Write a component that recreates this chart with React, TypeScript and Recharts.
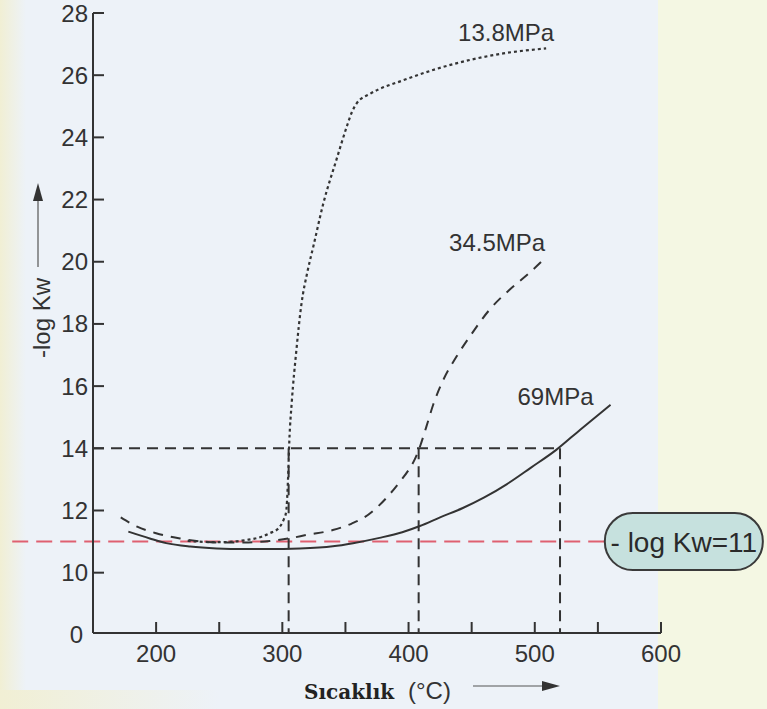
import React from 'react';
import { LineChart, Line, XAxis, YAxis, ReferenceLine, ReferenceDot, Label } from 'recharts';

const W = 767;
const H = 709;

// Axis setup: the vertical scale is broken below 10, the origin is labelled "0"
const yOrigin = 8.06;
const xTicks = [200, 250, 300, 350, 400, 450, 500, 550, 600];
const yTicks = [yOrigin, 10, 12, 14, 16, 18, 20, 22, 24, 26, 28];

// 13.8 MPa (dotted)
const temp138 = [225, 248, 261, 271, 283, 290, 297, 301, 303, 304.5, 305.5, 307.5, 311, 315, 320, 324.5, 332.5, 343, 351, 355, 359, 369.5, 396, 422, 448.6, 475, 509];
const kw138 = [11.02, 10.98, 11.0, 11.05, 11.15, 11.27, 11.43, 11.7, 11.95, 13.0, 14.2, 15.5, 17.1, 18.6, 19.7, 20.48, 21.88, 23.3, 24.34, 24.8, 25.1, 25.4, 25.84, 26.2, 26.49, 26.7, 26.86];

// 34.5 MPa (dashed)
const temp345 = [172, 185, 200, 219, 232, 250, 270, 290, 305, 320, 340, 355, 365, 375, 385, 393, 400, 405, 409, 414, 419.5, 427.5, 438, 448.6, 464, 480, 496, 509];
const kw345 = [11.78, 11.48, 11.27, 11.1, 11.02, 10.97, 10.97, 11.02, 11.1, 11.22, 11.37, 11.58, 11.78, 12.1, 12.52, 12.92, 13.3, 13.65, 14.05, 14.68, 15.4, 16.2, 16.95, 17.6, 18.45, 19.1, 19.65, 20.15];

// 69 MPa (solid)
const temp69 = [178, 195, 208, 227, 248, 270, 288, 314, 340, 356, 377, 395, 409, 425, 443, 460, 478, 497, 517, 536, 560];
const kw69 = [11.32, 11.1, 10.95, 10.84, 10.78, 10.76, 10.76, 10.78, 10.85, 10.95, 11.12, 11.3, 11.5, 11.78, 12.08, 12.42, 12.85, 13.38, 13.95, 14.6, 15.4];

const seriesNames = ['13.8MPa', '34.5MPa', '69MPa'];

// Guide lines at -log Kw = 14 and the temperatures where each curve reaches it
const guideKw = 14;
const guideTemps = [305, 408, 520];

// Reference level
const limitKw = 11;
const limitText = '- log Kw=11';
const limitStartTemp = 86;
const limitEndTemp = 555.5;

const ink = '#333333';
const sans = '"Liberation Sans", Arial, Helvetica, sans-serif';

const toPoints = (ts: number[], vs: number[]) => ts.map((t, i) => ({ t, v: vs[i] }));
const pts138 = toPoints(temp138, kw138);
const pts345 = toPoints(temp345, kw345);
const pts69 = toPoints(temp69, kw69);

const XTick = (props: any) => {
  const { x, y, payload } = props;
  const v = payload.value;
  return (
    <g>
      <line x1={x} y1={y} x2={x} y2={y - 11} stroke={ink} strokeWidth={2} />
      {v % 100 === 0 && (
        <text x={x} y={y + 29} textAnchor="middle" fontSize={24} fill={ink} fontFamily={sans}>
          {v}
        </text>
      )}
    </g>
  );
};

const YTick = (props: any) => {
  const { x, y, payload } = props;
  const v = payload.value;
  const isOrigin = v === yOrigin;
  return (
    <g>
      {!isOrigin && <line x1={x} y1={y} x2={x + 11} y2={y} stroke={ink} strokeWidth={2} />}
      <text
        x={isOrigin ? x - 10 : x - 5}
        y={y + (isOrigin ? 10 : 8.5)}
        textAnchor="end"
        fontSize={24}
        fill={ink}
        fontFamily={sans}
      >
        {isOrigin ? '0' : v}
      </text>
    </g>
  );
};

const YTitle = (props: any) => {
  const vb = props.viewBox;
  const ax = vb.x + 38;
  const ty = vb.y + 305;
  return (
    <g>
      <text
        x={vb.x + 50}
        y={ty}
        transform={`rotate(-90, ${vb.x + 50}, ${ty})`}
        textAnchor="middle"
        fontSize={24}
        fill={ink}
        fontFamily={sans}
      >
        -log Kw
      </text>
      <line x1={ax} y1={vb.y + 254} x2={ax} y2={vb.y + 188} stroke="#555" strokeWidth={1.2} />
      <polygon points={`${ax - 5},${vb.y + 188} ${ax + 5},${vb.y + 188} ${ax},${vb.y + 170}`} fill={ink} />
    </g>
  );
};

const XTitle = (props: any) => {
  const vb = props.viewBox;
  const by = vb.y + 66;
  const ay = vb.y + 53;
  return (
    <g>
      <text x={vb.x + 211} y={by} fontSize={20} fontWeight="bold" fill="#222" fontFamily='"DejaVu Serif", serif'>
        Sıcaklık
      </text>
      <text x={vb.x + 315} y={by} fontSize={24} fill={ink} fontFamily={sans}>
        (°C)
      </text>
      <line x1={vb.x + 380} y1={ay} x2={vb.x + 452} y2={ay} stroke="#555" strokeWidth={1.2} />
      <polygon points={`${vb.x + 449},${ay - 5} ${vb.x + 449},${ay + 5} ${vb.x + 467},${ay}`} fill={ink} />
    </g>
  );
};

const seriesLabel = (text: string, dx: number, dy: number) => (p: any) => (
  <text x={p.cx + dx} y={p.cy + dy} textAnchor="middle" fontSize={24} fill={ink} fontFamily={sans}>
    {text}
  </text>
);

const Pill = (p: any) => (
  <g>
    <rect x={p.cx} y={p.cy - 28.5} width={158} height={57} rx={28} ry={28} fill="#c6e1de" stroke="#3a3a3a" strokeWidth={2} />
    <text x={p.cx + 79} y={p.cy + 10} textAnchor="middle" fontSize={28} fill="#2a2a2a" fontFamily={sans}>
      {limitText}
    </text>
  </g>
);

export default function App() {
  const last138 = pts138[pts138.length - 1];
  const last345 = pts345[pts345.length - 1];
  const last69 = pts69[pts69.length - 1];
  return (
    <div style={{ position: 'absolute', left: 0, top: 0, width: W, height: H, background: '#edf2f8', overflow: 'hidden' }}>
      <div style={{ position: 'absolute', left: 0, top: 0, width: 26, height: H, background: 'linear-gradient(90deg, #f1efd4, #edf2f8)' }} />
      <div style={{ position: 'absolute', left: 658, top: 0, width: W - 658, height: H, background: '#f4f7e3' }} />
      <div style={{ position: 'absolute', left: 0, top: 690, width: 220, height: 19, background: 'linear-gradient(90deg, #f1efd4, #edf2f8)' }} />
      <div style={{ position: 'absolute', left: 0, top: 0 }}>
        <LineChart width={W} height={H} margin={{ top: 13, right: 106, bottom: 36, left: 0 }}>
          <XAxis
            dataKey="t"
            type="number"
            domain={[150, 600]}
            ticks={xTicks}
            allowDataOverflow
            height={40}
            tickSize={0}
            tickMargin={0}
            tickLine={false}
            tick={<XTick />}
            axisLine={{ stroke: ink, strokeWidth: 2 }}
            interval={0}
          >
            <Label content={<XTitle />} />
          </XAxis>
          <YAxis
            type="number"
            domain={[yOrigin, 28]}
            ticks={yTicks}
            allowDataOverflow
            width={93}
            tickSize={0}
            tickMargin={0}
            tickLine={false}
            tick={<YTick />}
            axisLine={{ stroke: ink, strokeWidth: 2 }}
            interval={0}
          >
            <Label content={<YTitle />} />
          </YAxis>

          <ReferenceLine
            segment={[{ x: limitStartTemp, y: limitKw }, { x: limitEndTemp, y: limitKw }]}
            ifOverflow="visible"
            stroke="#df6070"
            strokeWidth={2}
            strokeDasharray="16 8"
          />
          <ReferenceLine
            segment={[{ x: 150, y: guideKw }, { x: guideTemps[2], y: guideKw }]}
            ifOverflow="visible"
            stroke={ink}
            strokeWidth={2}
            strokeDasharray="11 7"
          />
          {guideTemps.map((t) => (
            <ReferenceLine
              key={t}
              segment={[{ x: t, y: guideKw }, { x: t, y: yOrigin }]}
              ifOverflow="visible"
              stroke={ink}
              strokeWidth={2}
              strokeDasharray="11 7"
            />
          ))}

          <Line data={pts69} dataKey="v" type="monotone" stroke={ink} strokeWidth={2} dot={false} isAnimationActive={false} />
          <Line data={pts345} dataKey="v" type="monotone" stroke={ink} strokeWidth={2} strokeDasharray="10 8" dot={false} isAnimationActive={false} />
          <Line data={pts138} dataKey="v" type="monotone" stroke={ink} strokeWidth={2.2} strokeDasharray="3 3" dot={false} isAnimationActive={false} />

          <ReferenceDot x={last138.t} y={last138.v} r={0} ifOverflow="visible" shape={seriesLabel(seriesNames[0], -40, -7)} />
          <ReferenceDot x={last345.t} y={last345.v} r={0} ifOverflow="visible" shape={seriesLabel(seriesNames[1], -49, -6)} />
          <ReferenceDot x={last69.t} y={last69.v} r={0} ifOverflow="visible" shape={seriesLabel(seriesNames[2], -55, 0)} />
          <ReferenceDot x={limitEndTemp} y={limitKw} r={0} ifOverflow="visible" shape={Pill} />
        </LineChart>
      </div>
    </div>
  );
}
